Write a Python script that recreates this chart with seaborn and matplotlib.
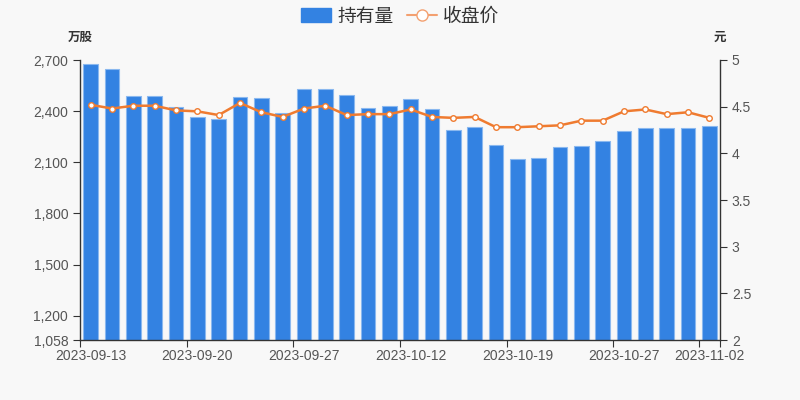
import matplotlib
matplotlib.use("Agg")
import matplotlib.pyplot as plt
import seaborn as sns
import pandas as pd
from matplotlib.lines import Line2D
from matplotlib.patches import FancyBboxPatch
from matplotlib.ticker import FuncFormatter

dates = [
    "2023-09-13", "2023-09-14", "2023-09-15", "2023-09-18", "2023-09-19",
    "2023-09-20", "2023-09-21", "2023-09-22", "2023-09-25", "2023-09-26",
    "2023-09-27", "2023-09-28", "2023-10-09", "2023-10-10", "2023-10-11",
    "2023-10-12", "2023-10-13", "2023-10-16", "2023-10-17", "2023-10-18",
    "2023-10-19", "2023-10-20", "2023-10-23", "2023-10-24", "2023-10-26",
    "2023-10-27", "2023-10-30", "2023-10-31", "2023-11-01", "2023-11-02",
]
holdings = [
    2678, 2647, 2491, 2487, 2426, 2366, 2352, 2483, 2479, 2391,
    2528, 2532, 2497, 2417, 2428, 2471, 2411, 2288, 2307, 2203,
    2118, 2124, 2188, 2196, 2223, 2282, 2299, 2303, 2301, 2315,
]
close_price = [
    4.52, 4.48, 4.51, 4.51, 4.46, 4.45, 4.41, 4.54, 4.44, 4.39,
    4.48, 4.51, 4.41, 4.42, 4.42, 4.47, 4.39, 4.38, 4.39, 4.28,
    4.28, 4.29, 4.30, 4.35, 4.35, 4.45, 4.47, 4.42, 4.44, 4.38,
]
label_idx = [0, 5, 10, 15, 20, 25, 29]
left_ticks = [1058, 1200, 1500, 1800, 2100, 2400, 2700]
right_ticks = [2, 2.5, 3, 3.5, 4, 4.5, 5]

bar_color = "#3382e2"
line_color = "#ef7b30"
text_color = "#555555"
bg = "#f8f8f8"

sns.set_style("ticks")
plt.rcParams["font.family"] = ["Liberation Sans", "Noto Sans CJK SC"]

df = pd.DataFrame({"date": dates, "holdings": holdings, "close": close_price})
df["pos"] = range(len(df))

fig = plt.figure(figsize=(8, 4), dpi=100, facecolor=bg)
ax = fig.add_axes([0.1, 0.15, 0.8, 0.7], facecolor=bg)

sns.barplot(data=df, x="pos", y="holdings", color=bar_color, width=0.7,
            edgecolor="#8ab8ef", linewidth=0.8, saturation=1, ax=ax)
ax.set_ylim(1058, 2700)
ax.set_xlim(-0.5, len(df) - 0.5)

ax2 = ax.twinx()
sns.lineplot(data=df, x="pos", y="close", color=line_color, linewidth=1.8,
             marker="o", markersize=4, markerfacecolor="white",
             markeredgecolor=line_color, markeredgewidth=1, ax=ax2)
ax2.set_ylim(2, 5)

# axes styling
for a in (ax, ax2):
    a.set_xlabel("")
    a.set_ylabel("")
    a.spines["top"].set_visible(False)
    for s in a.spines.values():
        s.set_color("#333333")
        s.set_linewidth(1)

ax.spines["right"].set_visible(False)
ax2.spines["left"].set_visible(False)
ax2.spines["bottom"].set_visible(False)

ax.set_yticks(left_ticks)
ax.yaxis.set_major_formatter(FuncFormatter(lambda v, p: f"{int(v):,}"))
ax2.set_yticks(right_ticks)
ax2.set_yticklabels([f"{t:g}" for t in right_ticks])

bounds = [i - 0.5 for i in label_idx] + [len(df) - 0.5]
ax.set_xticks(bounds)
ax.set_xticklabels([""] * len(bounds))
ax.set_xticks(label_idx, minor=True)
ax.set_xticklabels([dates[i] for i in label_idx], minor=True)
ax.tick_params(axis="x", which="minor", length=0, pad=6.5,
               labelsize=10, labelcolor=text_color)
ax.tick_params(axis="x", which="major", length=5, color="#333333")
ax.tick_params(axis="y", length=5, labelsize=10, labelcolor=text_color,
               color="#333333")
ax2.tick_params(axis="y", length=5, labelsize=10, labelcolor=text_color,
                color="#333333")

fig.text(0.1, 0.905, "万股", ha="center", va="center", fontsize=9,
         fontweight="bold", color="#333333")
fig.text(0.9, 0.905, "元", ha="center", va="center", fontsize=9,
         fontweight="bold", color="#333333")

# legend
handles = [
    FancyBboxPatch((0, 0), 1, 1, boxstyle="round,pad=0.1", color=bar_color),
    Line2D([0], [0], color="#f3a070", marker="o", markersize=8,
           markerfacecolor="white", markeredgecolor="#f3a070", linewidth=1.5),
]
fig.legend(handles, ["持有量", "收盘价"], loc="upper center",
           bbox_to_anchor=(0.5, 1.022), ncol=2, frameon=False, fontsize=13.5,
           handlelength=1.6, handletextpad=0.35, columnspacing=0.7,
           labelcolor="#333333")

fig.savefig("out.png", dpi=100, facecolor=bg)
